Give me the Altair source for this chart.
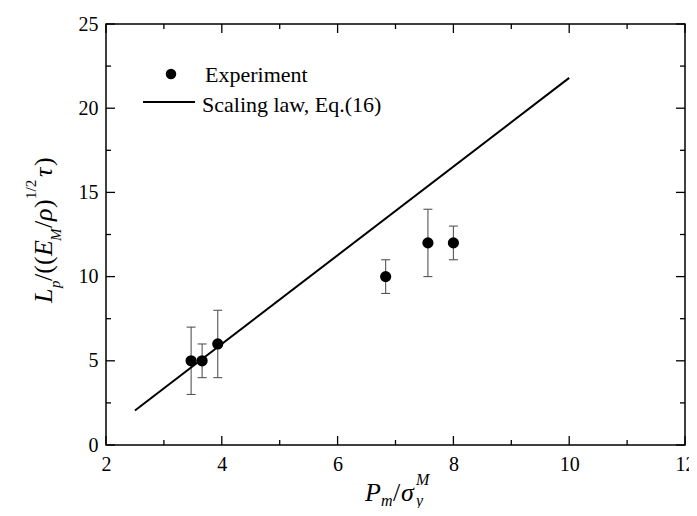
import altair as alt
import pandas as pd

# ---- data ----
x_exp = [3.47, 3.66, 3.93, 6.83, 7.56, 8.0]
y_exp = [5, 5, 6, 10, 12, 12]
y_lo = [3, 4, 4, 9, 10, 11]
y_hi = [7, 6, 8, 11, 14, 13]

x_law = [2.5, 10.0]
y_law = [2.05, 21.8]

x_major = [2, 4, 6, 8, 10, 12]
x_minor = [3, 5, 7, 9, 11]
y_major = [0, 5, 10, 15, 20, 25]
y_minor = [2.5, 7.5, 12.5, 17.5, 22.5]

legend_labels = ["Experiment", "Scaling law, Eq.(16)"]

W, H = 579, 421
FONT = "Liberation Serif"
MAJ, MIN = 9, 5

exp = pd.DataFrame({"x": x_exp, "y": y_exp, "lo": y_lo, "hi": y_hi})
law = pd.DataFrame({"x": x_law, "y": y_law})
xmaj = pd.DataFrame({"x": x_major})
xmin = pd.DataFrame({"x": x_minor})
ymaj = pd.DataFrame({"y": y_major})
ymin = pd.DataFrame({"y": y_minor})

xs = alt.Scale(domain=[2, 12], nice=False, zero=False)
ys = alt.Scale(domain=[0, 25], nice=False, zero=False)

ax_x = alt.Axis(values=x_major, title=None, ticks=False, tickSize=0, domain=False,
                grid=False, labelFont=FONT, labelFontSize=20, labelColor="black",
                labelPadding=9, labelFlush=False, format="d")
ax_y = alt.Axis(values=y_major, title=None, ticks=False, tickSize=0, domain=False,
                grid=False, labelFont=FONT, labelFontSize=20, labelColor="black",
                labelPadding=8, labelFlush=False, format="d")

X = lambda f="x": alt.X(f"{f}:Q", scale=xs, axis=ax_x)
Y = lambda f="y": alt.Y(f"{f}:Q", scale=ys, axis=ax_y)

# inward ticks on all four sides
tick_layers = []
for df, L in ((xmaj, MAJ), (xmin, MIN)):
    tick_layers.append(alt.Chart(df).mark_rule(color="black", strokeWidth=1.3).encode(
        x=X(), y=alt.value(H), y2=alt.value(H - L)))
    tick_layers.append(alt.Chart(df).mark_rule(color="black", strokeWidth=1.3).encode(
        x=X(), y=alt.value(0), y2=alt.value(L)))
for df, L in ((ymaj, MAJ), (ymin, MIN)):
    tick_layers.append(alt.Chart(df).mark_rule(color="black", strokeWidth=1.3).encode(
        y=Y(), x=alt.value(0), x2=alt.value(L)))
    tick_layers.append(alt.Chart(df).mark_rule(color="black", strokeWidth=1.3).encode(
        y=Y(), x=alt.value(W), x2=alt.value(W - L)))

err = alt.Chart(exp).mark_rule(color="#555555", strokeWidth=1.1).encode(
    x=X(), y=Y("lo"), y2="hi:Q")
cap_lo = alt.Chart(exp).mark_tick(orient="horizontal", color="#555555", size=9,
                                  thickness=1.1, opacity=1).encode(x=X(), y=Y("lo"))
cap_hi = alt.Chart(exp).mark_tick(orient="horizontal", color="#555555", size=9,
                                  thickness=1.1, opacity=1).encode(x=X(), y=Y("hi"))

line = alt.Chart(law).mark_line(color="black", strokeWidth=2).encode(x=X(), y=Y())
pts = alt.Chart(exp).mark_circle(color="black", size=125, opacity=1).encode(x=X(), y=Y())

one = pd.DataFrame({"k": [0]})


def txt(s, x, y, size, italic=False, angle=0):
    kw = dict(text=s, font=FONT, fontSize=size, color="black", align="left",
              baseline="alphabetic")
    if italic:
        kw["fontStyle"] = "italic"
    if angle:
        kw["angle"] = angle
    return alt.Chart(one).mark_text(**kw).encode(x=alt.value(x), y=alt.value(y))


# legend
leg_pt = alt.Chart(one).mark_point(filled=True, color="black", size=110, opacity=1,
                                   shape="circle").encode(x=alt.value(65), y=alt.value(50))
leg_ln = alt.Chart(one).mark_rule(color="black", strokeWidth=2).encode(
    x=alt.value(37), x2=alt.value(89), y=alt.value(78))
leg_t1 = txt(legend_labels[0], 99, 58, 22)
leg_t2 = txt(legend_labels[1], 96, 88, 22)

# y-axis title: L_p/((E_M/ρ)^{1/2} τ)  (rotated, read bottom to top)
yt = [
    txt("L", -54, 279, 26, True, 270),
    txt("p", -46, 264, 15, True, 270),
    txt("/((", -54, 257, 26, False, 270),
    txt("E", -54, 232, 26, True, 270),
    txt("M", -45, 217, 15, True, 270),
    txt("/", -54, 204, 26, False, 270),
    txt("ρ", -54, 197, 26, True, 270),
    txt(")", -54, 184, 26, False, 270),
    txt("1/2", -70, 175, 15, False, 270),
    txt("τ", -54, 153, 26, True, 270),
    txt(")", -54, 142, 26, False, 270),
]
# x-axis title: P_m/σ_y^M
xt = [
    txt("P", 259, 477, 26, True),
    txt("m", 275, 482, 16, True),
    txt("/", 287, 477, 26, False),
    txt("σ", 295, 477, 26, True),
    txt("M", 310, 461, 16, True),
    txt("y", 310, 482, 16, True),
]

chart = alt.layer(
    *tick_layers, err, cap_lo, cap_hi, line, pts,
    leg_pt, leg_ln, leg_t1, leg_t2, *yt, *xt
).properties(
    width=W, height=H,
    padding={"left": 98, "top": 16, "right": 4, "bottom": 63},
    autosize=alt.AutoSizeParams(type="none"),
).configure_view(
    stroke="black", strokeWidth=1.5
).configure_axis(
    labelFont=FONT, labelFontSize=20, labelColor="black"
)

chart.save("out.html", embed_options={"renderer": "svg", "actions": False})
